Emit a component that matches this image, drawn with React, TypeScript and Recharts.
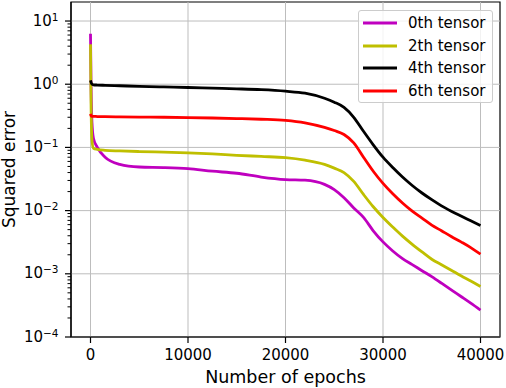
import { LineChart, Line, XAxis, YAxis, ReferenceLine, ReferenceArea } from 'recharts'

const FONT = '"DejaVu Sans", sans-serif'

// epochs sampled along the training run
const epochs = [
  0, 50, 150, 300, 700, 1500, 3000, 5000, 7500, 10000, 12500, 15000, 17500, 20000, 22000, 24000,
  25000, 26000, 27000, 28000, 29000, 30000, 31000, 32000, 33000, 34000, 35000, 36000, 37000, 38000, 39000, 40000,
]

const tensor0 = [
  6.3, 1.2, 0.25, 0.14, 0.1, 0.07, 0.054, 0.049, 0.048, 0.046, 0.042, 0.039, 0.034, 0.031, 0.0303, 0.026,
  0.0215, 0.016, 0.011, 0.0078, 0.0048, 0.0032, 0.0023, 0.00174, 0.0014, 0.00112, 0.0009, 0.00071, 0.000556, 0.000437, 0.000343, 0.000266,
]
const tensor2 = [
  4.3, 0.6, 0.13, 0.097, 0.093, 0.09, 0.088, 0.086, 0.084, 0.082, 0.079, 0.075, 0.072, 0.069, 0.063, 0.054,
  0.047, 0.04, 0.029, 0.018, 0.0115, 0.0078, 0.0055, 0.00395, 0.00293, 0.00222, 0.0017, 0.00139, 0.00114, 0.00093, 0.00077, 0.00063,
]
const tensor4 = [
  1.15, 1.08, 1.0, 0.98, 0.97, 0.96, 0.945, 0.925, 0.905, 0.887, 0.865, 0.845, 0.82, 0.776, 0.72, 0.6,
  0.52, 0.43, 0.3, 0.18, 0.11, 0.07, 0.048, 0.034, 0.025, 0.019, 0.0149, 0.0119, 0.0098, 0.0082, 0.0069, 0.0058,
]
const tensor6 = [
  0.34, 0.32, 0.31, 0.31, 0.308, 0.306, 0.304, 0.302, 0.3, 0.297, 0.292, 0.286, 0.279, 0.268, 0.245, 0.207,
  0.185, 0.16, 0.118, 0.07, 0.042, 0.027, 0.0185, 0.0132, 0.0098, 0.0076, 0.0059, 0.0048, 0.0039, 0.0032, 0.0026, 0.00205,
]

const xTicks = [0, 10000, 20000, 30000, 40000]
const decades = [1e-4, 1e-3, 1e-2, 1e-1, 1, 10]
const minorSteps = [2, 3, 4, 5, 6, 7, 8, 9]
const yTop = 20
const yTicks = [...decades, ...decades.flatMap((d) => minorSteps.map((m) => m * d))]
  .filter((v) => v < yTop)
  .sort((a, b) => a - b)

const series = [
  { key: 't0', name: '0th tensor', color: '#bf00bf', values: tensor0 },
  { key: 't2', name: '2th tensor', color: '#bfbf00', values: tensor2 },
  { key: 't4', name: '4th tensor', color: '#000000', values: tensor4 },
  { key: 't6', name: '6th tensor', color: '#ff0000', values: tensor6 },
]

const data = epochs.map((epoch, i) => {
  const row: Record<string, number> = { epoch }
  series.forEach((s) => {
    row[s.key] = s.values[i]
  })
  return row
})

function YTick(props: any) {
  const { x, y, payload } = props
  const v = payload.value as number
  const exp = Math.round(Math.log10(v))
  const major = decades.some((d) => Math.abs(d - v) < d * 1e-6)
  if (!major) {
    return <line x1={x - 3.5} x2={x} y1={y} y2={y} stroke="#000" strokeWidth={1} />
  }
  const sup = exp < 0 ? '\u2212' + Math.abs(exp) : String(exp)
  return (
    <g>
      <line x1={x - 6} x2={x} y1={y} y2={y} stroke="#000" strokeWidth={1.2} />
      <text x={x - 12.5} y={y + 4.5} textAnchor="end" fontSize={15} fill="#000" fontFamily={FONT}>
        10
        <tspan dy={-5} fontSize={10.5}>
          {sup}
        </tspan>
      </text>
    </g>
  )
}

function LegendBox() {
  return (
    <div
      style={{
        position: 'absolute',
        left: 358,
        top: 10,
        boxSizing: 'border-box',
        width: 135,
        height: 93,
        paddingTop: 1,
        border: '1px solid #cccccc',
        borderRadius: 3,
        background: 'rgba(255,255,255,0.8)',
        fontFamily: FONT,
        fontSize: 15,
        color: '#000',
      }}
    >
      {series.map((s) => (
        <div key={s.key} style={{ height: 22.5, display: 'flex', alignItems: 'center' }}>
          <svg width={34} height={6} style={{ marginLeft: 4 }}>
            <line x1={0} x2={34} y1={3} y2={3} stroke={s.color} strokeWidth={2.8} />
          </svg>
          <span style={{ marginLeft: 11, whiteSpace: 'nowrap' }}>{s.name}</span>
        </div>
      ))}
    </div>
  )
}

export default function App() {
  return (
    <div style={{ position: 'absolute', left: 0, top: 0, width: 506, height: 388, fontFamily: FONT }}>
      <LineChart width={506} height={388} data={data} margin={{ top: 2, right: 6, left: 0, bottom: 0 }}>
        {decades.map((d) => (
          <ReferenceLine key={'h' + d} y={d} stroke="#bdbdbd" strokeWidth={1} />
        ))}
        {xTicks.map((t) => (
          <ReferenceLine key={'v' + t} x={t} stroke="#bdbdbd" strokeWidth={1} />
        ))}
        <XAxis
          dataKey="epoch"
          type="number"
          domain={[-2000, 42000]}
          allowDataOverflow
          ticks={xTicks}
          interval={0}
          height={51}
          tickSize={6}
          tickMargin={6}
          tick={{ fontSize: 15, fill: '#000', fontFamily: FONT }}
          axisLine={{ stroke: '#000', strokeWidth: 1.2 }}
          tickLine={{ stroke: '#000', strokeWidth: 1.2 }}
          label={{ value: 'Number of epochs', position: 'insideBottom', offset: 5, style: { fontSize: 17.5, fill: '#000', fontFamily: FONT } }}
        />
        <YAxis
          scale="log"
          type="number"
          domain={[1e-4, yTop]}
          allowDataOverflow
          ticks={yTicks}
          interval={0}
          width={71}
          tickSize={0}
          tickMargin={0}
          tickLine={false}
          tick={<YTick />}
          axisLine={{ stroke: '#000', strokeWidth: 1.2 }}
          label={{
            value: 'Squared error',
            angle: -90,
            position: 'insideLeft',
            offset: 9,
            style: { textAnchor: 'middle', fontSize: 17, fill: '#000', fontFamily: FONT },
          }}
        />
        <ReferenceArea x1={-2000} x2={42000} y1={1e-4} y2={yTop} fillOpacity={0} stroke="#000" strokeWidth={1.2} />
        {series.map((s) => (
          <Line
            key={s.key}
            dataKey={s.key}
            name={s.name}
            type="monotone"
            stroke={s.color}
            strokeWidth={2.8}
            dot={false}
            activeDot={false}
            isAnimationActive={false}
          />
        ))}
      </LineChart>
      <LegendBox />
    </div>
  )
}
